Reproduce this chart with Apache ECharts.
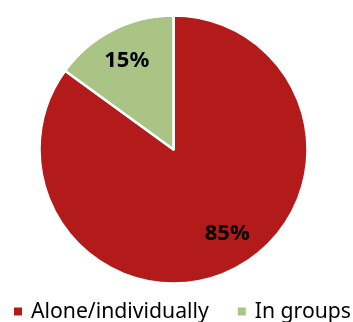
<!DOCTYPE html>
<html>
<head>
<meta charset="utf-8">
<script src="https://cdn.jsdelivr.net/npm/echarts@6/dist/echarts.min.js"></script>
<style>
  html, body { margin: 0; padding: 0; background: #ffffff; }
  #chart { width: 353px; height: 322px; }
</style>
</head>
<body>
<div id="chart"></div>
<script>
// Share of respondents by working mode
const categories = ['Alone/individually', 'In groups'];
const shares = [85, 15];
const colors = ['#B31B1B', '#A9C484'];

const pieData = categories.map((name, i) => ({
  name: name,
  value: shares[i],
  itemStyle: { color: colors[i] }
}));

const chart = echarts.init(document.getElementById('chart'), null, { renderer: 'canvas' });

const center = [173.5, 149.5];
const radius = 134;

chart.setOption({
  animation: false,
  legend: {
    data: categories,
    top: 301,
    left: 12,
    width: 400,
    padding: 0,
    icon: 'rect',
    itemWidth: 10,
    itemHeight: 10,
    itemGap: 27,
    textStyle: {
      fontFamily: 'Noto Sans',
      fontSize: 21.2,
      color: '#000000',
      padding: [0, 0, 0, 3]
    }
  },
  series: [
    {
      type: 'pie',
      center: center,
      radius: [0, radius],
      startAngle: 90,
      clockwise: true,
      itemStyle: { borderColor: '#ffffff', borderWidth: 2.5 },
      label: { show: false },
      labelLine: { show: false },
      emphasis: { disabled: true },
      data: pieData
    },
    {
      // transparent ring used only to place the percentage labels
      type: 'pie',
      center: center,
      radius: [66, radius],
      startAngle: 90,
      clockwise: true,
      silent: true,
      legendHoverLink: false,
      itemStyle: { color: 'rgba(0,0,0,0)', borderWidth: 0 },
      label: {
        show: true,
        position: 'inside',
        formatter: '{c}%',
        fontFamily: 'Noto Sans',
        fontWeight: 'bold',
        fontSize: 22,
        color: '#000000'
      },
      labelLayout: function (params) {
        if (params.dataIndex === 0) return { dx: 7, dy: -8 };
        return { dy: 3 };
      },
      labelLine: { show: false },
      emphasis: { disabled: true },
      data: shares.map((v, i) => ({ name: categories[i] + ' ', value: v }))
    }
  ]
});
</script>
</body>
</html>
